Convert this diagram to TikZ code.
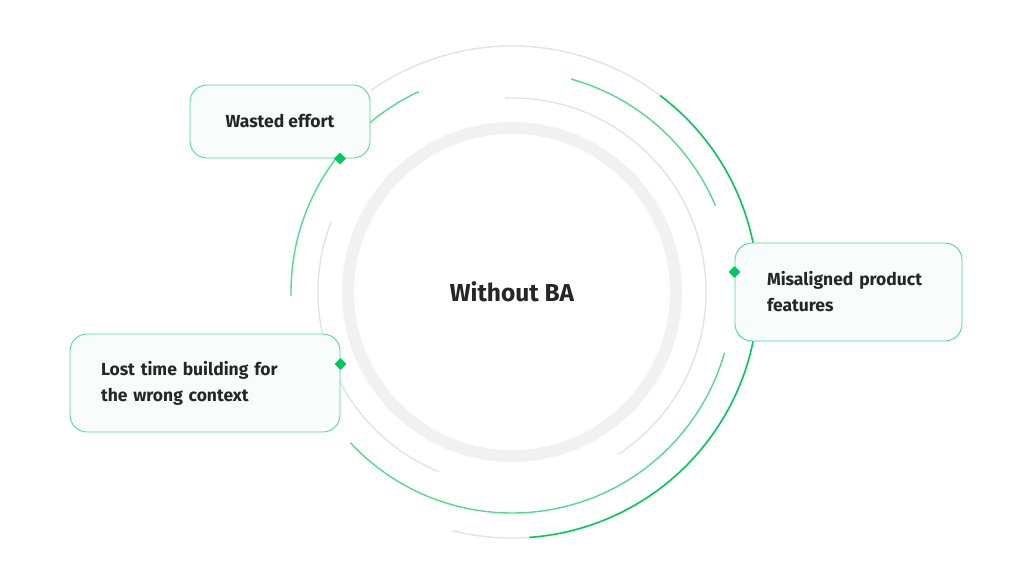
\documentclass[tikz,border=0pt]{standalone}
\usepackage{fontspec}
\setmainfont{Fira Sans}
\usetikzlibrary{shapes.geometric}
\definecolor{dg}{RGB}{0,200,90}
\definecolor{lg}{RGB}{80,220,140}
\definecolor{gr}{RGB}{226,226,232}
\definecolor{ring}{RGB}{241,241,244}
\definecolor{bfill}{RGB}{248,252,250}
\tikzset{x=1pt,y=-1pt,
 box/.style={draw=lg,line width=0.9pt,fill=bfill,rounded corners=17pt,align=left,font=\fontsize{17.5}{26}\selectfont\bfseries,text=black!85,inner sep=0pt},
 dia/.style={diamond,fill=dg,inner sep=0pt,minimum size=12pt},
 garc/.style={gr,line width=1.4pt},
 larc/.style={lg,line width=1.4pt},
 darc/.style={dg,line width=1.6pt}}
\begin{document}
\begin{tikzpicture}
\useasboundingbox (0,0) rectangle (1024,585);
\coordinate (c) at (512,292);
\draw[ring,line width=12pt] (c) circle[radius=164];
% outer r=246
\draw[garc] (c) ++(-125:246) arc[start angle=-125,end angle=-53,radius=246];
\draw[darc] (c) ++(-53:246) arc[start angle=-53,end angle=86,radius=246];
\draw[garc] (c) ++(86:246) arc[start angle=86,end angle=104,radius=246];
% r=221
\draw[larc] (c) ++(-181:221) arc[start angle=-181,end angle=-115,radius=221];
\draw[larc] (c) ++(-74.5:221) arc[start angle=-74.5,end angle=-23,radius=221];
\draw[larc] (c) ++(137:221) arc[start angle=137,end angle=16,radius=221];
% r=194
\draw[garc] (c) ++(-92:194) arc[start angle=-92,end angle=57,radius=194];
\draw[garc] (c) ++(-159:194) arc[start angle=-159,end angle=-248,radius=194];
\node[font=\fontsize{24.5}{28}\selectfont\bfseries,text=black!85] (t) at (c) {Without BA};
\node[box,minimum width=180pt,minimum height=73pt] (w) at (280,121.5) {Wasted effort};
\node[box,minimum width=227pt,minimum height=98pt,text width=163pt] (m) at (848.5,292) {Misaligned product\\features};
\node[box,minimum width=270pt,minimum height=98pt,text width=208pt] (l) at (205,383) {Lost time building for\\the wrong context};
\node[dia] (d1) at (w.south -| 340,0) {};
\node[dia] (d2) at (m.west |- 0,272) {};
\node[dia] (d3) at (l.east |- 0,364) {};
\end{tikzpicture}
\end{document}
